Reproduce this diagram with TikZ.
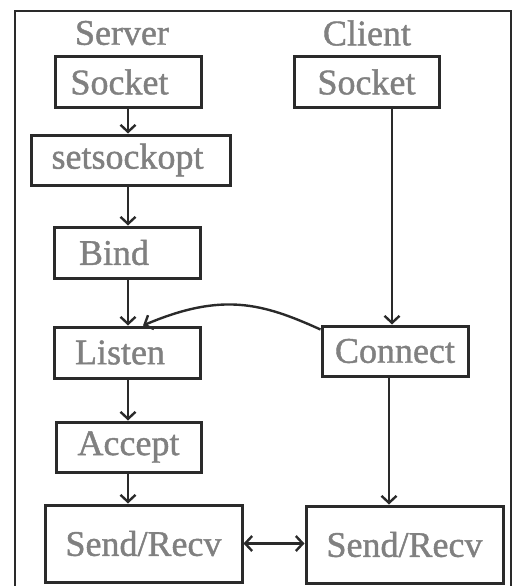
\documentclass[tikz,border=0pt]{standalone}
\usepackage{fontspec}
\setmainfont{Liberation Serif}[BoldFont={Liberation Serif}, BoldFeatures={FakeBold=1.2}]
\usetikzlibrary{arrows.meta,calc}
\definecolor{txtgray}{HTML}{808080}
\definecolor{linegray}{HTML}{2A2A2A}
\tikzset{
  box/.style={draw=linegray, line width=3pt, rectangle, inner sep=0pt, text=txtgray,
    font=\fontsize{36}{36}\selectfont\bfseries},
  head/.style={text=txtgray, inner sep=0pt, font=\fontsize{36}{36}\selectfont\bfseries},
  arr/.style={draw=linegray, line width=2.4pt, -{Straight Barb[length=7pt,width=15pt,line width=2.4pt]}},
  darr/.style={draw=linegray, line width=2.4pt, {Straight Barb[length=7pt,width=15pt,line width=2.4pt]}-{Straight Barb[length=7pt,width=15pt,line width=2.4pt]}},
}
\begin{document}
\begin{tikzpicture}[x=1pt,y=-1pt]
\useasboundingbox (0,0) rectangle (512,586);
\draw[linegray, line width=1.8pt] (15,11) rectangle (511,600);
\node[head] (hs) at (122,33) {Server};
\node[head] (hc) at (367,33) {Client};
\node[box, minimum width=146, minimum height=50] (ss) at (128,82) {\hspace*{-17pt}Socket};
\node[box, minimum width=199, minimum height=50] (opt) at (130.5,160) {\hspace*{-6pt}setsockopt};
\node[box, minimum width=146, minimum height=51] (bind) at (127,252.5) {\hspace*{-26pt}Bind};
\node[box, minimum width=146, minimum height=51] (listen) at (127,352.5) {\hspace*{-14pt}Listen};
\node[box, minimum width=145, minimum height=50] (acc) at (128.5,447) {Accept};
\node[box, minimum width=197, minimum height=77] (ssr) at (143.5,543.5) {Send/Recv};
\node[box, minimum width=145, minimum height=50] (cs) at (366.5,82) {Socket};
\node[box, minimum width=146, minimum height=50] (conn) at (395,351) {Connect};
\node[box, minimum width=197, minimum height=77] (csr) at (404.5,544.5) {Send/Recv};
\draw[arr] (ss.south) -- (ss.south |- opt.north);
\draw[arr] ([xshift=-2.5]opt.south) -- ([xshift=-2.5]opt.south |- bind.north);
\draw[arr] ([xshift=1]bind.south) -- ([xshift=1]bind.south |- listen.north);
\draw[arr] ([xshift=1]listen.south) -- ([xshift=1]listen.south |- acc.north);
\draw[arr] ([xshift=-0.5]acc.south) -- ([xshift=-0.5]acc.south |- ssr.north);
\draw[arr] ([xshift=25.5]cs.south) -- ([xshift=25.5]cs.south |- conn.north);
\draw[arr] ([xshift=-6]conn.south) -- ([xshift=-6]conn.south |- csr.north);
\draw[arr] ([yshift=-5]conn.north west) .. controls (262,303) and (222,292) .. ([xshift=16]listen.north);
\draw[darr] (ssr.east) -- (ssr.east -| csr.west);
\end{tikzpicture}
\end{document}
